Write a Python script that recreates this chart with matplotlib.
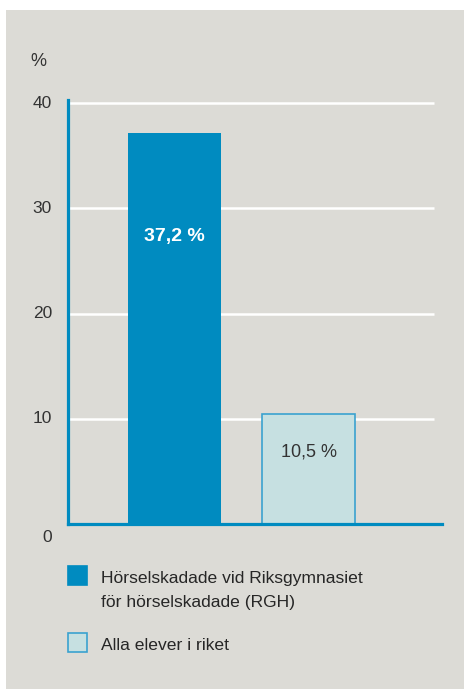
import matplotlib.pyplot as plt
import matplotlib.transforms as mtransforms
from matplotlib.patches import Rectangle

# data
groups = ['Hörselskadade vid Riksgymnasiet\nför hörselskadade (RGH)', 'Alla elever i riket']
values = [37.2, 10.5]
value_labels = ['37,2 %', '10,5 %']
yticks = [0, 10, 20, 30, 40]

blue = '#008bc0'
light = '#c6e0e1'
light_edge = '#3aa2cf'
bg = '#dcdbd6'

plt.rcParams['font.family'] = ['Liberation Sans', 'DejaVu Sans']

W, H = 468, 689
fig = plt.figure(figsize=(W / 100, H / 100), dpi=100)
fig.patch.set_facecolor('white')
# grey panel behind everything
fig.patches.append(Rectangle((6 / W, 0), 458 / W, 679 / H, transform=fig.transFigure,
                             facecolor=bg, edgecolor='none', zorder=-10))

ax = fig.add_axes([68 / W, (H - 524) / H, (442 - 68) / W, (524 - 100) / H])
ax.set_facecolor('none')

x = list(range(len(values)))
ax.set_xlim(-0.79, 1.99)
ax.set_ylim(0, 40.3)

ax.hlines(yticks[1:], -0.79, 1.93, colors='white', lw=1.8, zorder=1)

ax.bar(x[0], values[0], width=0.69, color=blue, edgecolor='none', zorder=2)
ax.bar(x[1], values[1], width=0.69, color=light, edgecolor=light_edge, lw=1.2, zorder=2)

ax.text(x[0], 27.3, value_labels[0], color='white', fontsize=14, ha='center', va='center',
        fontweight='bold', zorder=3)
ax.text(x[1], 6.8, value_labels[1], color='#333333', fontsize=13, ha='center', va='center',
        zorder=3)

for s in ['top', 'right']:
    ax.spines[s].set_visible(False)
for s in ['left', 'bottom']:
    ax.spines[s].set_color(blue)
    ax.spines[s].set_linewidth(2.3)

ax.set_xticks([])
ax.set_yticks([])

# y labels, drawn next to the axis
trans = mtransforms.blended_transform_factory(fig.transFigure, ax.transData)
for t in yticks:
    tr = trans
    if t == 0:
        tr = trans + mtransforms.ScaledTranslation(0, -13 / 100, fig.dpi_scale_trans)
    ax.text(52 / W, t, str(t), transform=tr, fontsize=12.5, color='#333333',
            ha='right', va='center')

fig.text(30 / W, (H - 61) / H, '%', fontsize=13, color='#333333', va='center', ha='left')

# legend, drawn by hand
legend_y = [575, 642]
colors = [(blue, blue), (light, light_edge)]
for yy, lab, (fc, ec) in zip(legend_y, groups, colors):
    fig.patches.append(Rectangle((68 / W, (H - yy - 9.5) / H), 19 / W, 19 / H,
                                 transform=fig.transFigure, facecolor=fc, edgecolor=ec, lw=1.2))
    fig.text(101 / W, (H - yy + 4) / H, lab, fontsize=12.6, color='#262626',
             va='top', ha='left', linespacing=1.75)

fig.savefig('out.png', dpi=100)
